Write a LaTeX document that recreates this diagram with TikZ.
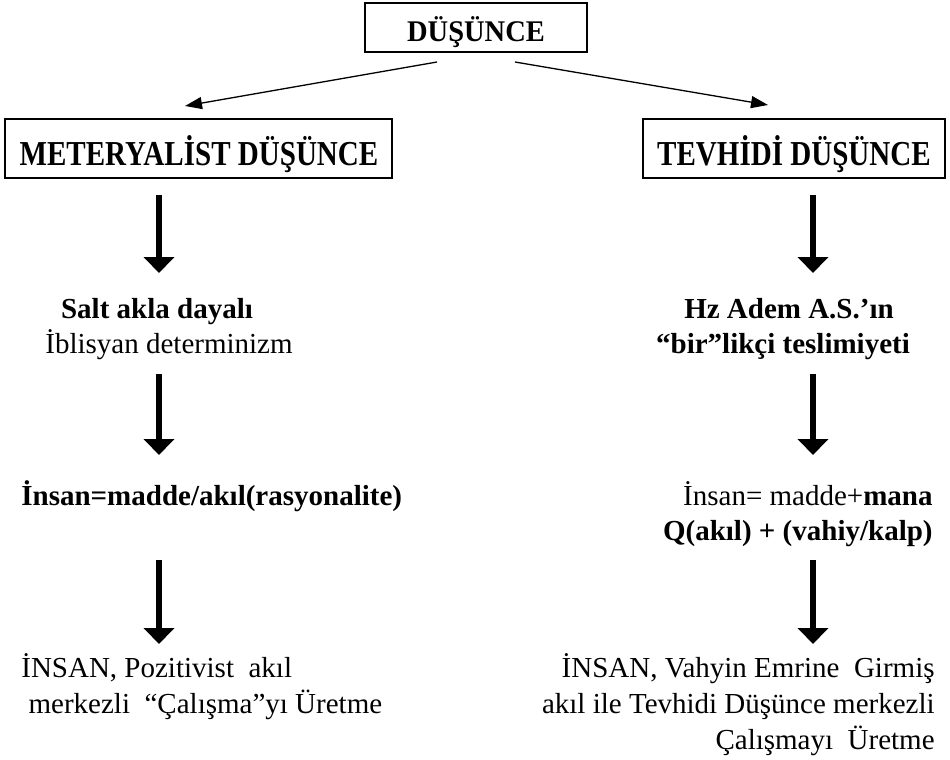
\documentclass[tikz,border=0pt]{standalone}
\usepackage{fontspec}
\setmainfont{Liberation Serif}
\newfontfamily\condfont[FakeStretch=0.83]{Liberation Serif}
\newfontfamily\topfont[FakeStretch=0.95]{Liberation Serif}
\usetikzlibrary{arrows.meta}
\tikzset{
  boxnode/.style={draw, line width=0.6pt, inner sep=0pt},
  bigtxt/.style={font=\condfont\bfseries\fontsize{17.5}{20}\selectfont, inner sep=0pt},
  txt/.style={inner sep=0pt, font=\fontsize{14.5}{18}\selectfont},
  btxt/.style={inner sep=0pt, font=\fontsize{14.5}{18}\selectfont\bfseries},
  bigarrow/.style={line width=2.8pt, -{Triangle[width=15pt,length=8pt]}},
  thinarrow/.style={line width=0.65pt, -{Triangle[width=6pt,length=8.5pt]}},
}
\begin{document}
\begin{tikzpicture}[x=0.5pt,y=-0.5pt]
\useasboundingbox (0,0) rectangle (950,760);
% boxes
\node[boxnode, minimum width=111pt, minimum height=24.5pt] (top) at (476,27.5) {};
\node[anchor=base, inner sep=0pt, font=\topfont\bfseries\fontsize{15}{18}\selectfont] (topt) at (476,41) {DÜŞÜNCE};
\node[boxnode, minimum width=193.5pt, minimum height=29.5pt] (mat) at (198.5,148.5) {};
\node[bigtxt, anchor=base] (matt) at (199,165) {METERYALİST DÜŞÜNCE};
\node[boxnode, minimum width=151pt, minimum height=29.5pt] (tev) at (794,148.5) {};
\node[bigtxt, anchor=base] (tevt) at (794,165) {TEVHİDİ DÜŞÜNCE};
% thin arrows
\coordinate (tl) at (437,62);
\coordinate (tr) at (515,62);
\coordinate (ml) at (185,106);
\coordinate (mr) at (768,105);
\draw[thinarrow] (tl) -- (ml);
\draw[thinarrow] (tr) -- (mr);
% left column
\node[btxt, anchor=base] (l1a) at (157,318) {Salt akla dayalı};
\node[txt, anchor=base west] (l1b) at (45,353) {İblisyan determinizm};
\node[btxt, anchor=base west] (l2) at (21,505) {İnsan=madde/akıl(rasyonalite)};
\node[txt, anchor=base west] (l3a) at (21,677) {İNSAN, Pozitivist\ \ akıl};
\node[txt, anchor=base west] (l3b) at (21,713) {\ merkezli\ \ “Çalışma”yı Üretme};
% right column
\node[btxt, anchor=base] (r1a) at (789,318) {Hz Adem A.S.’ın};
\node[btxt, anchor=base] (r1b) at (783,353) {“bir”likçi teslimiyeti};
\node[txt, anchor=base east] (r2a) at (933,505) {İnsan= madde+\textbf{mana}};
\node[btxt, anchor=base east] (r2b) at (933,540) {Q(akıl) + (vahiy/kalp)};
\node[txt, anchor=base east] (r3a) at (935,677) {İNSAN, Vahyin Emrine\ \ Girmiş};
\node[txt, anchor=base east] (r3b) at (935,713) {akıl ile Tevhidi Düşünce merkezli};
\node[txt, anchor=base east] (r3c) at (935,749) {Çalışmayı\ \ Üretme};
% thick arrows
\coordinate (la1) at (159,195); \coordinate (la2) at (159,273);
\coordinate (la3) at (159,374); \coordinate (la4) at (159,455);
\coordinate (la5) at (159,560); \coordinate (la6) at (159,644);
\coordinate (ra1) at (813,195); \coordinate (ra2) at (813,273);
\coordinate (ra3) at (813,374); \coordinate (ra4) at (813,455);
\coordinate (ra5) at (813,560); \coordinate (ra6) at (813,644);
\draw[bigarrow] (la1) -- (la2);
\draw[bigarrow] (la3) -- (la4);
\draw[bigarrow] (la5) -- (la6);
\draw[bigarrow] (ra1) -- (ra2);
\draw[bigarrow] (ra3) -- (ra4);
\draw[bigarrow] (ra5) -- (ra6);
\end{tikzpicture}
\end{document}
